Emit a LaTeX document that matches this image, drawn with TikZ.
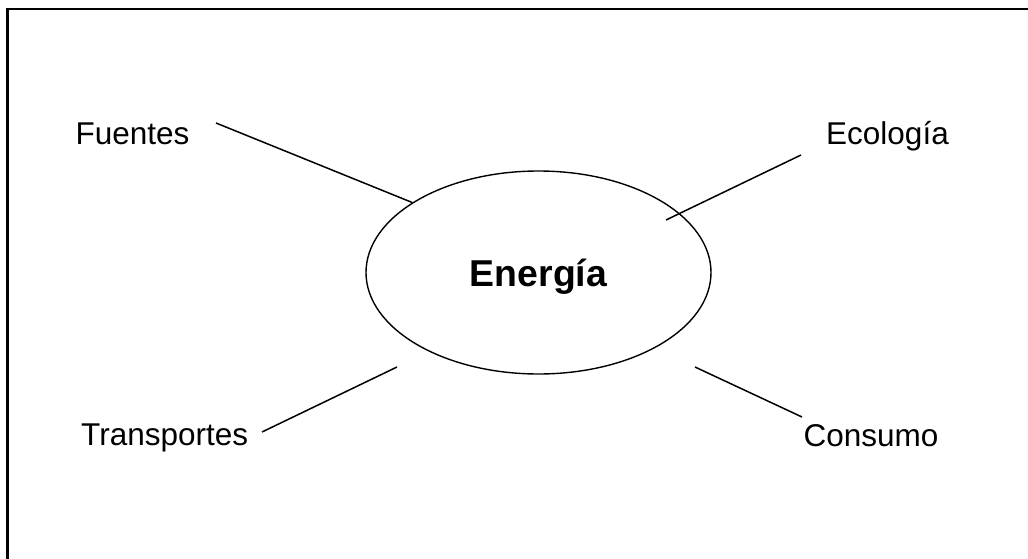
\documentclass[tikz,border=0pt]{standalone}
\usepackage{fontspec}
\setmainfont{Liberation Sans}
\usetikzlibrary{shapes.geometric}
\begin{document}
\begin{tikzpicture}[x=1pt,y=-1pt,
  topic/.style={font=\fontsize{31.5}{37}\selectfont, inner sep=0pt, anchor=base west},
  hub/.style={draw, ellipse, line width=1.4pt, minimum width=345pt, minimum height=203pt,
    inner sep=0pt, font=\fontsize{37.4}{44}\selectfont\bfseries, text height=27pt, text depth=0pt},
  link/.style={line width=1.5pt},
  frame/.style={line width=2.2pt}]
\useasboundingbox (0,0) rectangle (1028,559);
% page frame (top and left edges)
\draw[frame] (7.5,559) -- (7.5,9) -- (1028,9);

% central idea
\node[hub] (hub) at (538.5,272.5) {Energía};

% surrounding topics
\node[topic] (fuentes) at (75.4,145) {Fuentes};
\node[topic] (ecologia) at (826,145) {Ecología};
\node[topic] (transportes) at (81,445) {Transportes};
\node[topic] (consumo) at (803.5,446) {Consumo};

% free ends of the spokes
\coordinate (fA) at (216,123);
\coordinate (eA) at (801,155);
\coordinate (eB) at (666,220);
\coordinate (tA) at (262,432);
\coordinate (tB) at (397,367);
\coordinate (cA) at (695,367);
\coordinate (cB) at (802,417);

% spokes
\draw[link] (fA) -- (hub.151.6);
\draw[link] (eA) -- (eB);
\draw[link] (tA) -- (tB);
\draw[link] (cA) -- (cB);
\end{tikzpicture}
\end{document}
